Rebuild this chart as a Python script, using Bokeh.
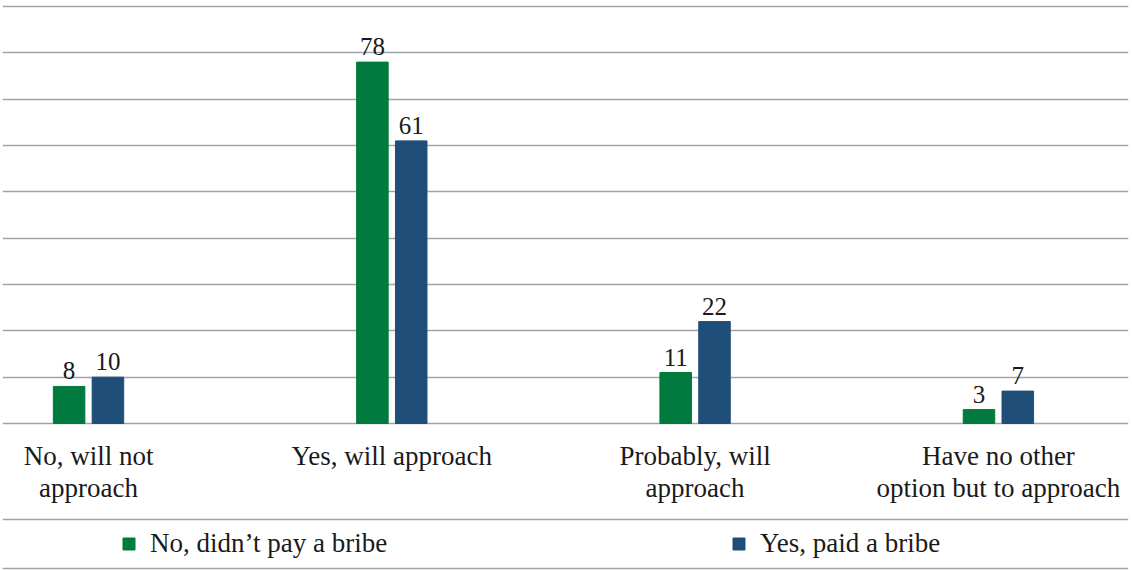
from bokeh.plotting import figure
from bokeh.models import (ColumnDataSource, Range1d, FixedTicker, Grid, Span,
                          Legend, LegendItem, LabelSet)
from bokeh.core.properties import value
from bokeh.transform import dodge
from bokeh.embed import file_html
from bokeh.resources import INLINE

# ---- data ----
categories = ["No, will not\napproach", "Yes, will approach",
              "Probably, will\napproach", "Have no other\noption but to approach"]
series_names = ["No, didn\u2019t pay a bribe", "Yes, paid a bribe"]
no_bribe = [8, 78, 11, 3]
paid_bribe = [10, 61, 22, 7]
y_ticks = [0, 10, 20, 30, 40, 50, 60, 70, 80, 90]

FONT = "Liberation Serif"
GREEN = "#007a3e"
BLUE = "#1f4e79"
GRID = "#a3a3a3"
TEXT = "#1a1a1a"

pos = list(range(len(categories)))
src = ColumnDataSource(dict(
    x=pos, base=[0] * len(pos), cat=categories, a=no_bribe, b=paid_bribe,
    a_lbl=[str(v) for v in no_bribe], b_lbl=[str(v) for v in paid_bribe]))

p = figure(width=1132, height=570,
           x_range=Range1d(-0.2836, 3.429), y_range=Range1d(-31.73, 91.30),
           x_axis_type=None, y_axis_type=None,
           output_backend="svg", toolbar_location=None,
           min_border=0, min_border_left=2, min_border_right=4,
           outline_line_color=None)

p.add_layout(Grid(dimension=1, ticker=FixedTicker(ticks=y_ticks),
                  grid_line_color=GRID, grid_line_width=1.5))

off = 0.064
bw = 0.104
r1 = p.vbar(x=dodge("x", -off), top="a", width=bw, source=src, color=GREEN)
r2 = p.vbar(x=dodge("x", off), top="b", width=bw, source=src, color=BLUE)

for fld, lbl, o in (("a", "a_lbl", -off), ("b", "b_lbl", off)):
    p.add_layout(LabelSet(x=dodge("x", o), y=fld, text=lbl, source=src,
                          y_offset=7, text_align="center", text_baseline="bottom",
                          text_font=FONT, text_font_size="25px", text_color=TEXT))

# category labels under the baseline
p.text(x="x", y="base", text="cat", source=src, y_offset=18,
       text_align="center", text_baseline="top", text_font=value(FONT),
       text_font_size="27px", text_color=TEXT, text_line_height=1.06)

# separator lines around the legend
for loc in (-20.7, -31.3):
    p.add_layout(Span(location=loc, dimension="width",
                      line_color=GRID, line_width=1.5))

legend = Legend(items=[LegendItem(label=series_names[0], renderers=[r1]),
                       LegendItem(label=series_names[1], renderers=[r2])],
                orientation="horizontal", location=(119, 11),
                glyph_width=15, glyph_height=15, label_standoff=14,
                label_width=571, spacing=10, padding=8, margin=0,
                border_line_color=None, background_fill_alpha=0,
                label_text_font=FONT, label_text_font_size="27px",
                label_text_color=TEXT)
p.add_layout(legend)

open("out.html", "w").write(file_html(p, INLINE))
